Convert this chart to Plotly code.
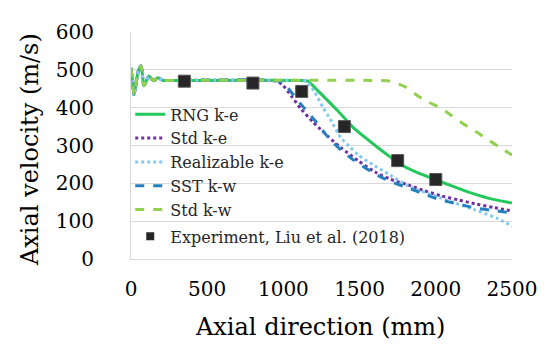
import plotly.graph_objects as go

# Oscillating inlet region shared by all simulations
osc_x = [0, 10, 20, 35, 50, 66, 85, 100, 118, 135, 151, 177, 210, 250]
osc_y = [505, 470, 434, 470, 500, 510, 458, 470, 484, 476, 471, 479, 472, 472]

rng_x = osc_x + [1100, 1160, 1220, 1273, 1358, 1457, 1540, 1621, 1700, 1772, 1880, 2001, 2100, 2192, 2343, 2500]
rng_y = osc_y + [472, 470, 447, 426, 391, 348, 320, 294, 270, 249, 228, 209, 194, 180, 161, 148]

stdke_x = osc_x + [900, 950, 990, 1050, 1115, 1194, 1293, 1378, 1490, 1601, 1700, 1818, 1920, 2034, 2150, 2257, 2380, 2500]
stdke_y = osc_y + [472, 470, 462, 432, 397, 362, 324, 294, 260, 230, 211, 196, 181, 167, 156, 146, 136, 127]

real_x = osc_x + [1100, 1150, 1207, 1260, 1300, 1378, 1440, 1490, 1601, 1700, 1818, 2034, 2257, 2400, 2500]
real_y = osc_y + [472, 470, 440, 400, 375, 320, 295, 275, 246, 222, 193, 161, 130, 108, 87]

sst_x = osc_x + [950, 1000, 1030, 1109, 1207, 1293, 1378, 1466, 1601, 1700, 1818, 1920, 2034, 2150, 2257, 2380, 2500]
sst_y = osc_y + [472, 466, 452, 412, 366, 322, 288, 260, 225, 205, 188, 172, 156, 145, 135, 128, 122]

stdkw_x = osc_x + [1600, 1700, 1800, 1883, 1950, 2034, 2100, 2192, 2270, 2343, 2420, 2500]
stdkw_y = osc_y + [472, 470, 455, 431, 415, 399, 380, 354, 335, 315, 295, 275]

exp_x = [350, 800, 1120, 1400, 1750, 2000]
exp_y = [470, 465, 443, 350, 260, 210]

x_ticks = [0, 500, 1000, 1500, 2000, 2500]
y_ticks = [0, 100, 200, 300, 400, 500, 600]

FONT = "DejaVu Serif"

fig = go.Figure()

def add_line(x, y, name, color, dash, width=3):
    fig.add_trace(go.Scatter(
        x=x, y=y, mode="lines", name=name, legendgroup="sim",
        line=dict(color=color, width=width, dash=dash, shape="spline", smoothing=0.6),
    ))

add_line(rng_x, rng_y, "RNG k-e", "#22C95A", "solid")
add_line(stdke_x, stdke_y, "Std k-e", "#7030A0", "dot")
add_line(real_x, real_y, "Realizable k-e", "#82CBEF", "dot")
add_line(sst_x, sst_y, "SST k-w", "#2581BE", "dash")
add_line(stdkw_x, stdkw_y, "Std k-w", "#92D050", "dash")

fig.add_trace(go.Scatter(
    x=exp_x, y=exp_y, mode="markers", name="Experiment, Liu et al. (2018)",
    showlegend=False,
    marker=dict(symbol="square", size=12, color="#262626", line=dict(color="#555555", width=1)),
))
fig.add_trace(go.Scatter(
    x=[None], y=[None], mode="markers", name="Experiment, Liu et al. (2018)",
    legendgroup="exp",
    marker=dict(symbol="square", size=8, color="#262626"),
))

# white legend panel that hides gridlines but sits beneath the curves
legend_panels = [
    dict(x0=0.026, x1=0.373, y0=0.115, y1=0.652),
    dict(x0=0.026, x1=0.706, y0=0.009, y1=0.115),
]
shapes = [dict(type="rect", xref="paper", yref="paper", layer="between",
               fillcolor="white", line=dict(width=0), **p) for p in legend_panels]

fig.update_layout(
    width=550, height=349,
    margin=dict(l=123, r=46, t=24, b=98),
    paper_bgcolor="white", plot_bgcolor="white",
    font=dict(family=FONT, color="#000000"),
    showlegend=True,
    shapes=shapes,
    legend=dict(
        x=-0.002, y=0.712, xanchor="left", yanchor="top",
        bgcolor="rgba(0,0,0,0)", borderwidth=0,
        font=dict(family=FONT, size=16, color="#262626"),
        traceorder="grouped", tracegroupgap=3,
        itemwidth=30,
    ),
    xaxis=dict(
        range=[0, 2500], tickvals=x_ticks, ticktext=[str(v) for v in x_ticks],
        showgrid=False, zeroline=False,
        showline=True, linecolor="#D9D9D9", linewidth=1,
        ticks="", ticklabelstandoff=12,
        tickfont=dict(family=FONT, size=20, color="#000000"),
    ),
    yaxis=dict(
        range=[0, 600], tickvals=y_ticks, ticktext=[str(v) for v in y_ticks],
        showgrid=True, gridcolor="#D9D9D9", gridwidth=1, zeroline=False,
        showline=True, linecolor="#D9D9D9", linewidth=1,
        ticks="", ticklabelstandoff=32,
        tickfont=dict(family=FONT, size=20, color="#000000"),
    ),
    annotations=[
        dict(text="Axial direction (mm)", x=0.496, y=-0.30, xref="paper", yref="paper",
             xanchor="center", yanchor="middle", showarrow=False,
             font=dict(family=FONT, size=24, color="#000000")),
        dict(text="Axial velocity (m/s)", x=-0.265, y=0.48, xref="paper", yref="paper",
             xanchor="center", yanchor="middle", showarrow=False, textangle=-90,
             font=dict(family=FONT, size=24, color="#000000")),
    ],
)

fig.write_html("out.html")
